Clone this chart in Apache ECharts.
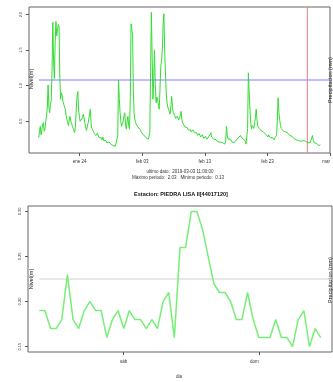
<!DOCTYPE html>
<html><head><meta charset="utf-8">
<script src="https://cdn.jsdelivr.net/npm/echarts@6/dist/echarts.min.js"></script>
<style>html,body{margin:0;padding:0;background:#fff}#c{width:333px;height:382px}</style>
</head><body><div id="c"></div>
<script>
const FONT = '"Liberation Sans", Arial, sans-serif';

// ---- top chart: level, 3-hourly readings ----
const levelStart = Date.UTC(2019, 0, 17, 11);
const levelStepHours = 3;
const levelValues = [
  0.27,0.36,0.43,0.31,0.33,0.45,0.48,0.36,0.39,0.50,0.57,0.70,1.01,0.70,0.62,0.74,0.80,1.20,1.89,
  1.35,1.10,1.60,1.90,1.70,1.78,1.86,1.83,1.10,0.81,0.90,0.86,0.78,0.74,0.70,0.67,0.58,0.53,0.48,0.44,0.52,
  0.57,0.50,0.47,0.43,0.40,0.37,0.34,0.45,0.67,0.85,0.92,0.66,0.57,0.50,0.48,0.52,0.55,0.60,0.62,0.48,
  0.42,0.37,0.39,0.47,0.53,0.60,0.67,0.46,0.40,0.38,0.36,0.33,0.34,0.30,0.31,0.33,0.32,0.27,0.29,0.28,
  0.27,0.24,0.28,0.23,0.22,0.24,0.23,0.20,0.20,0.22,0.21,0.19,0.18,0.20,0.19,0.16,0.17,0.16,0.15,0.14,
  0.13,0.30,1.08,0.82,0.62,0.50,0.43,0.47,0.50,0.58,0.62,0.45,0.39,0.50,0.57,0.44,0.39,0.80,1.87,
  1.80,1.70,0.90,0.60,0.52,0.48,0.45,0.44,0.42,0.41,0.40,0.38,0.35,0.36,0.33,0.31,0.32,0.29,0.27,0.26,0.27,
  0.25,0.28,0.34,1.20,2.03,1.40,0.81,1.10,1.50,1.00,0.76,0.84,0.81,0.72,0.67,0.95,1.27,1.35,1.50,1.85,
  2.01,1.50,1.18,0.90,0.76,0.70,0.67,0.63,0.60,0.72,0.85,0.68,0.62,0.60,0.58,0.54,0.53,0.57,0.55,0.52,
  0.50,0.58,0.64,0.52,0.48,0.49,0.46,0.42,0.43,0.44,0.41,0.38,0.39,0.40,0.38,0.35,0.36,0.38,0.37,0.34,
  0.33,0.35,0.34,0.30,0.31,0.33,0.32,0.28,0.29,0.31,0.30,0.26,0.27,0.29,0.28,0.25,0.26,0.28,0.29,0.31,
  0.34,0.28,0.26,0.27,0.25,0.23,0.26,0.24,0.23,0.21,0.22,0.23,0.21,0.19,0.22,0.20,0.19,0.20,0.18,0.22,
  0.43,0.30,0.25,0.24,0.23,0.25,0.24,0.21,0.21,0.22,0.20,0.21,0.23,0.22,0.25,0.27,0.28,0.26,0.30,0.27,
  0.26,0.27,0.25,0.23,0.22,0.18,0.16,0.40,1.18,0.90,0.67,0.48,0.39,0.44,0.43,0.40,0.48,0.55,0.67,0.52,
  0.43,0.41,0.40,0.38,0.37,0.39,0.38,0.35,0.34,0.35,0.32,0.33,0.30,0.28,0.31,0.29,0.27,0.28,0.26,0.27,
  0.25,0.24,0.27,0.26,0.30,0.50,0.83,0.62,0.53,0.44,0.40,0.41,0.39,0.36,0.37,0.38,0.35,0.33,0.36,0.33,
  0.31,0.30,0.28,0.30,0.29,0.27,0.26,0.27,0.25,0.24,0.26,0.24,0.23,0.25,0.24,0.22,0.22,0.23,0.23,0.21,
  0.21,0.22,0.22,0.20,0.20,0.21,0.21,0.20,0.23,0.25,0.30,0.23,0.20,0.19,0.18,0.19,0.17,0.18,0.16,0.18,0.17
];
const levelThreshold = 1.08;
const recentPeriodMark = Date.UTC(2019, 2, 1, 9);
const topXMin = Date.UTC(2019, 0, 15, 21, 43);
const topXMax = Date.UTC(2019, 2, 5, 0, 0);
const topYMin = 0.055, topYMax = 2.105;
const topTickTimes = [Date.UTC(2019,0,24), Date.UTC(2019,1,3), Date.UTC(2019,1,13), Date.UTC(2019,1,23), Date.UTC(2019,2,5)];
const topTickLabels = ['ene 24', 'feb 03', 'feb 13', 'feb 23', 'mar'];
const topYTicks = [0.5, 1.0, 1.5, 2.0];

// ---- bottom chart: level, hourly readings ----
const recentStart = Date.UTC(2019, 2, 1, 9);
const recentStepHours = 1;
const recentValues = [
  0.19,0.19,0.17,0.17,0.18,0.23,0.18,0.17,0.19,0.20,
  0.19,0.19,0.16,0.18,0.19,0.17,0.19,0.18,0.18,0.17,
  0.18,0.17,0.20,0.21,0.16,0.26,0.26,0.30,0.30,0.28,
  0.25,0.22,0.21,0.21,0.20,0.18,0.18,0.21,0.18,0.16,
  0.16,0.16,0.18,0.16,0.16,0.15,0.18,0.19,0.15,0.17,0.16
];
const recentThreshold = 0.225;
const botXMin = Date.UTC(2019, 2, 1, 7);
const botXMax = Date.UTC(2019, 2, 3, 13);
const botYMin = 0.144, botYMax = 0.306;
const bottomTickTimes = [Date.UTC(2019,2,2), Date.UTC(2019,2,3)];
const bottomTickLabels = ['sáb', 'dom'];
const bottomYTicks = [0.15, 0.20, 0.25, 0.30];

const HOUR = 3600 * 1000;
const levelData = levelValues.map((v, i) => [levelStart + i * levelStepHours * HOUR, v]);
const recentData = recentValues.map((v, i) => [recentStart + i * recentStepHours * HOUR, v]);

function xAxisCfg(grid, min, max, ticks, labels, margin) {
  return {
    type: 'value', gridIndex: grid, min: min, max: max,
    axisLine: { show: false },
    splitLine: { show: false },
    axisTick: { show: true, length: 3, customValues: ticks, lineStyle: { color: '#555', width: 1 } },
    axisLabel: {
      customValues: ticks, margin: margin, fontSize: 4.5, color: '#333', fontFamily: FONT,
      hideOverlap: false, alignMaxLabel: 'right',
      formatter: function (v) { const k = ticks.indexOf(Number(v)); return k >= 0 ? labels[k] : ''; }
    }
  };
}
function yAxisCfg(grid, min, max, ticks, digits) {
  return {
    type: 'value', gridIndex: grid, min: min, max: max,
    axisLine: { show: false },
    splitLine: { show: false },
    axisTick: { show: true, length: 3, customValues: ticks, lineStyle: { color: '#555', width: 1 } },
    axisLabel: {
      customValues: ticks, rotate: 90, margin: 6, fontSize: 4, color: '#333', fontFamily: FONT,
      formatter: function (v) { return Number(v).toFixed(digits); }
    }
  };
}

const chart = echarts.init(document.getElementById('c'), null, { renderer: 'canvas' });
chart.setOption({
  animation: false,
  backgroundColor: '#ffffff',
  textStyle: { fontFamily: FONT },
  title: [
    { text: 'ultimo dato:  2019-03-03 11:00:00', left: 180, top: 169, textAlign: 'center', padding: 0,
      textStyle: { fontSize: 4.5, fontWeight: 'normal', color: '#333', fontFamily: FONT } },
    { text: 'Máximo periodo:  2.03   Mínimo periodo:  0.13', left: 178, top: 175, textAlign: 'center', padding: 0,
      textStyle: { fontSize: 4.5, fontWeight: 'normal', color: '#333', fontFamily: FONT } },
    { text: 'Estacion: PIEDRA LISA II[44017120]', left: 181, top: 191, textAlign: 'center', padding: 0,
      textStyle: { fontSize: 5.5, fontWeight: 'bold', color: '#111', fontFamily: FONT } }
  ],
  grid: [
    { left: 29, right: 1, top: 7, height: 146, show: true, borderColor: '#666', borderWidth: 1, backgroundColor: 'transparent' },
    { left: 28, right: 1, top: 206, height: 146, show: true, borderColor: '#666', borderWidth: 1, backgroundColor: 'transparent' }
  ],
  xAxis: [
    xAxisCfg(0, topXMin, topXMax, topTickTimes, topTickLabels, 6),
    xAxisCfg(1, botXMin, botXMax, bottomTickTimes, bottomTickLabels, 7)
  ],
  yAxis: [
    yAxisCfg(0, topYMin, topYMax, topYTicks, 1),
    yAxisCfg(1, botYMin, botYMax, bottomYTicks, 2)
  ],
  graphic: [
    { type: 'text', x: 31.5, y: 79, rotation: Math.PI / 2,
      style: { text: 'Nivel(m)', align: 'center', verticalAlign: 'middle', fontSize: 5.5, fontFamily: FONT, fill: '#222' } },
    { type: 'text', x: 330, y: 80, rotation: Math.PI / 2,
      style: { text: 'Precipitacion (mm)', align: 'center', verticalAlign: 'middle', fontSize: 5.5, fontFamily: FONT, fill: '#222' } },
    { type: 'text', x: 31.5, y: 279, rotation: Math.PI / 2,
      style: { text: 'Nivel(m)', align: 'center', verticalAlign: 'middle', fontSize: 5.5, fontFamily: FONT, fill: '#222' } },
    { type: 'text', x: 330, y: 280, rotation: Math.PI / 2,
      style: { text: 'Precipitacion (mm)', align: 'center', verticalAlign: 'middle', fontSize: 5.5, fontFamily: FONT, fill: '#222' } },
    { type: 'text', x: 179, y: 377,
      style: { text: 'dia', align: 'center', verticalAlign: 'middle', fontSize: 4.5, fontFamily: FONT, fill: '#333' } }
  ],
  series: [
    { type: 'line', xAxisIndex: 0, yAxisIndex: 0, data: levelData, symbol: 'none',
      lineStyle: { color: '#33dd33', width: 1 }, z: 2 },
    { type: 'line', xAxisIndex: 0, yAxisIndex: 0, data: [[levelStart, levelThreshold], [topXMax, levelThreshold]],
      symbol: 'none', lineStyle: { color: '#7f7fff', width: 1 }, z: 3 },
    { type: 'line', xAxisIndex: 0, yAxisIndex: 0, data: [[recentPeriodMark, topYMin], [recentPeriodMark, topYMax]],
      symbol: 'none', lineStyle: { color: '#e08080', width: 1 }, z: 3 },
    { type: 'line', xAxisIndex: 1, yAxisIndex: 1, data: [[recentStart, recentThreshold], [botXMax, recentThreshold]],
      symbol: 'none', lineStyle: { color: '#d0d0d0', width: 1 }, z: 1 },
    { type: 'line', xAxisIndex: 1, yAxisIndex: 1, data: recentData, symbol: 'none',
      lineStyle: { color: '#77ee77', width: 1.5 }, z: 2 }
  ]
});
</script></body></html>
